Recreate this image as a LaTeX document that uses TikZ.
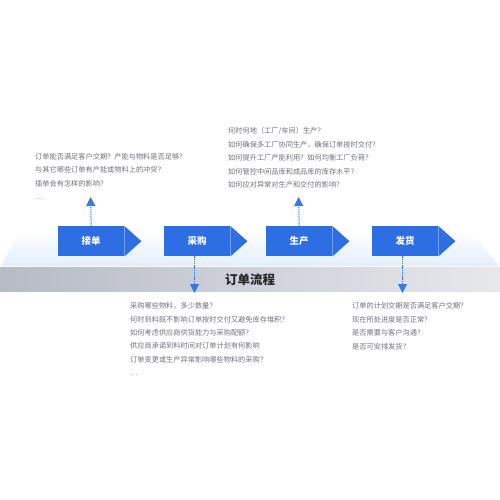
\documentclass[tikz,border=0pt]{standalone}
\usepackage{fontspec}
\setmainfont{Noto Sans CJK SC}
\usetikzlibrary{arrows.meta}
\definecolor{boxblue}{HTML}{2D6FE3}
\definecolor{arrblue}{HTML}{3A78E6}
\definecolor{txtgray}{HTML}{70737B}
\definecolor{platblue}{HTML}{E3EEFB}
\definecolor{barleft}{HTML}{B7BBC6}
\definecolor{barright}{HTML}{E6E8EC}
\tikzset{
  stagebox/.style={fill=boxblue, draw=none, minimum width=66pt, minimum height=30pt,
    inner sep=0pt, text=white, font=\fontsize{9.5}{10}\selectfont\bfseries},
  qtext/.style={anchor=north west, align=left, inner sep=0pt, text=txtgray,
    font=\fontsize{7.2}{13.4}\selectfont},
  dotarrow/.style={draw=arrblue, line width=1pt, dash pattern=on 1.3pt off 0.9pt,
    -{Triangle[width=9pt,length=9pt]}},
}
\begin{document}
\begin{tikzpicture}[x=1pt,y=-1pt]
\useasboundingbox (0,0) rectangle (500,500);
\fill[white] (0,0) rectangle (500,500);
% platform
\shade[top color=white, bottom color=platblue] (20,230) -- (470,230) -- (499,266) -- (1,266) -- cycle;
% bar
\shade[left color=barleft, right color=barright] (0,266) rectangle (500,291);
\draw[white!80!barright, line width=0.8pt] (0,266.4) -- (500,266.4);
\node[font=\fontsize{12.5}{13}\selectfont\bfseries, text=black!85] (title) at (250,280) {订单流程};
% stage boxes
\foreach \n/\x/\t in {b1/58/接单, b2/164/采购, b3/266/生产, b4/372/发货}{
  \node[stagebox, anchor=north west] (\n) at (\x,226) {\t};
  \fill[boxblue] (\n.north east) -- ([xshift=17pt]\n.east) -- (\n.south east) -- cycle;
}
% arrow ends
\coordinate (u1) at (90.5,197);
\coordinate (u3) at (298.5,197);
\coordinate (d2) at (194.5,293);
\coordinate (d4) at (402.5,293);
\draw[dotarrow] (b1.north) -- (u1);
\draw[dotarrow] (b3.north) -- (u3);
\draw[dotarrow] (b2.south -| d2) -- (d2);
\draw[dotarrow] (b4.south -| d4) -- (d4);
% question texts
\node[qtext] (q1) at (35,153) {订单能否满足客户交期？产能与物料是否足够？\\与其它哪些订单有产能或物料上的冲突？\\插单会有怎样的影响？\\…};
\node[qtext] (q3) at (228,127.5) {何时何地（工厂/车间）生产？\\如何确保多工厂协同生产，确保订单按时交付？\\如何提升工厂产能利用？如何均衡工厂负荷？\\如何管控中间品库和成品库的库存水平？\\如何应对异常对生产和交付的影响？};
\node[qtext] (q2) at (130,302.5) {采购哪些物料，多少数量？\\何时到料既不影响订单按时交付又避免库存堆积？\\如何考虑供应商供货能力与采购配额？\\供应商承诺到料时间对订单计划有何影响\\订单变更或生产异常影响哪些物料的采购？\\…};
\node[qtext] (q4) at (352,302.5) {订单的计划交期是否满足客户交期？\\现在所处进度是否正常？\\是否需要与客户沟通？\\是否可安排发货？};
\end{tikzpicture}
\end{document}
